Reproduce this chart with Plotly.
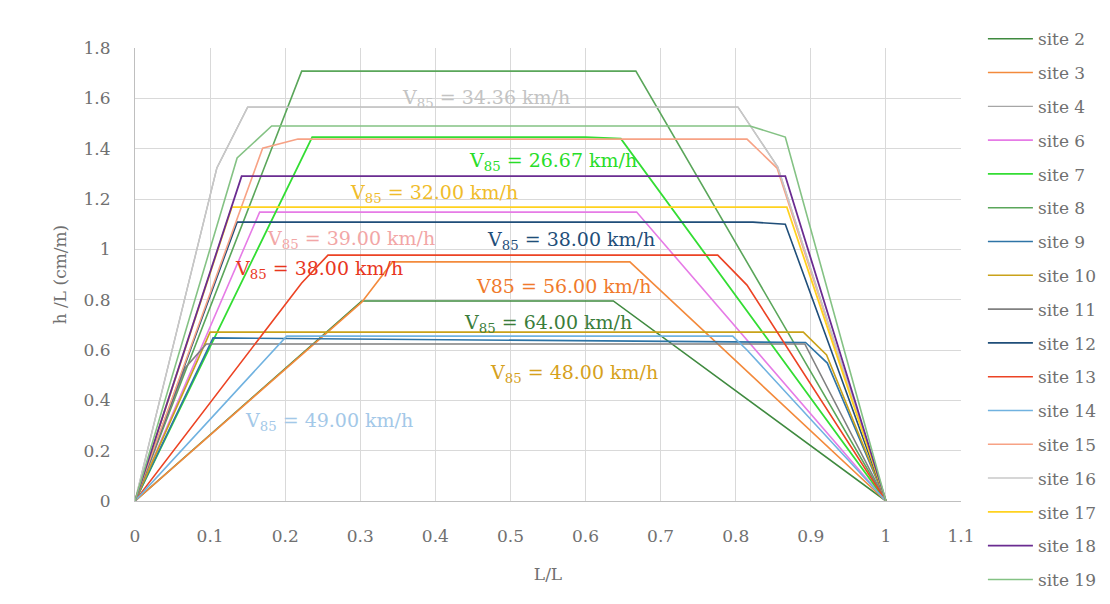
import plotly.graph_objects as go

# Normalised hump profiles: position along hump (L/L) vs. height ratio (h/L)
sites = ["site 2", "site 3", "site 4", "site 6", "site 7", "site 8", "site 9",
         "site 10", "site 11", "site 12", "site 13", "site 14", "site 15",
         "site 16", "site 17", "site 18", "site 19"]

x_site2 = [0, 0.302, 0.637, 1]
y_site2 = [0, 0.795, 0.795, 0]
x_site3 = [0, 0.302, 0.343, 0.659, 1]
y_site3 = [0, 0.79, 0.95, 0.95, 0]
x_site4 = [0, 0.109, 0.150, 0.803, 0.856, 1]
y_site4 = [0, 1.323, 1.565, 1.565, 1.327, 0]
x_site6 = [0, 0.166, 0.668, 1]
y_site6 = [0, 1.148, 1.148, 0]
x_site7 = [0, 0.236, 0.60, 0.647, 1]
y_site7 = [0, 1.446, 1.446, 1.44, 0]
x_site8 = [0, 0.222, 0.667, 1]
y_site8 = [0, 1.708, 1.708, 0]
x_site9 = [0, 0.104, 0.893, 0.922, 1]
y_site9 = [0, 0.648, 0.63, 0.548, 0]
x_site10 = [0, 0.10, 0.89, 0.921, 1]
y_site10 = [0, 0.671, 0.671, 0.58, 0]
x_site11 = [0, 0.067, 0.095, 0.892, 1]
y_site11 = [0, 0.53, 0.624, 0.624, 0]
x_site12 = [0, 0.136, 0.823, 0.866, 1]
y_site12 = [0, 1.108, 1.108, 1.10, 0]
x_site13 = [0, 0.222, 0.257, 0.776, 0.815, 1]
y_site13 = [0, 0.866, 0.977, 0.977, 0.858, 0]
x_site14 = [0, 0.202, 0.796, 0.815, 1]
y_site14 = [0, 0.655, 0.655, 0.60, 0]
x_site15 = [0, 0.170, 0.217, 0.815, 0.855, 1]
y_site15 = [0, 1.402, 1.438, 1.438, 1.323, 0]
x_site16 = [0, 0.109, 0.150, 0.803, 0.856, 1]
y_site16 = [0, 1.323, 1.565, 1.565, 1.327, 0]
x_site17 = [0, 0.129, 0.868, 1]
y_site17 = [0, 1.168, 1.168, 0]
x_site18 = [0, 0.142, 0.866, 1]
y_site18 = [0, 1.291, 1.291, 0]
x_site19 = [0, 0.136, 0.182, 0.819, 0.866, 1]
y_site19 = [0, 1.363, 1.49, 1.49, 1.446, 0]

xs = [x_site2, x_site3, x_site4, x_site6, x_site7, x_site8, x_site9, x_site10,
      x_site11, x_site12, x_site13, x_site14, x_site15, x_site16, x_site17,
      x_site18, x_site19]
ys = [y_site2, y_site3, y_site4, y_site6, y_site7, y_site8, y_site9, y_site10,
      y_site11, y_site12, y_site13, y_site14, y_site15, y_site16, y_site17,
      y_site18, y_site19]

colors = ["#3f8a3f", "#f38a3c", "#a6a6a6", "#e67be6", "#33dd33", "#5aa65a",
          "#2e74a6", "#c9a21a", "#808080", "#1f4e79", "#ec4324", "#70b2e0",
          "#f7a285", "#c8c8c8", "#ffd21f", "#6a2c91", "#84c284"]
widths = [1.6, 1.6, 1.3, 1.6, 1.8, 1.6, 1.6, 1.6, 1.6, 1.6, 1.6, 1.6, 1.6,
          1.5, 1.8, 1.8, 1.6]

# Speed labels placed beside the profiles
label_text = ["V<sub>85</sub> = 34.36 km/h", "V<sub>85</sub> = 26.67 km/h",
              "V<sub>85</sub> = 32.00 km/h", "V<sub>85</sub> = 39.00 km/h",
              "V<sub>85</sub> = 38.00 km/h", "V<sub>85</sub> = 38.00 km/h",
              "V85 = 56.00 km/h", "V<sub>85</sub> = 64.00 km/h",
              "V<sub>85</sub> = 48.00 km/h", "V<sub>85</sub> = 49.00 km/h"]
label_x = [0.467, 0.557, 0.398, 0.287, 0.581, 0.245, 0.571, 0.550, 0.585, 0.258]
label_y = [1.60, 1.35, 1.22, 1.04, 1.035, 0.92, 0.855, 0.705, 0.505, 0.315]
label_colors = ["#c3c3c3", "#28dd28", "#f0bc2a", "#f2a6a6", "#1f4e79",
                "#e8361e", "#f07a2c", "#3a7d3a", "#d6a11c", "#a3c8e8"]

FONT = "DejaVu Serif"
GREY = "#707070"

fig = go.Figure()
for name, x, y, c, w in zip(sites, xs, ys, colors, widths):
    fig.add_trace(go.Scatter(x=x, y=y, mode="lines", name=name,
                             legendgroup=name,
                             line=dict(color=c, width=w)))

for t, x, y, c in zip(label_text, label_x, label_y, label_colors):
    fig.add_annotation(x=x, y=y, text=t, showarrow=False,
                       font=dict(family=FONT, size=19, color=c))

fig.update_layout(
    width=1110, height=604,
    margin=dict(l=135, r=149, t=48, b=103),
    paper_bgcolor="white", plot_bgcolor="white",
    font=dict(family=FONT, size=17, color=GREY),
    legend=dict(xref="container", yref="container",
                x=0.8855, xanchor="left", y=0.965, yanchor="top",
                maxheight=1.0,
                font=dict(family=FONT, size=17, color=GREY),
                tracegroupgap=8.7, itemwidth=45, bgcolor="rgba(0,0,0,0)"),
    showlegend=True,
)
fig.update_xaxes(range=[0, 1.1], dtick=0.1, tick0=0, showgrid=True,
                 gridcolor="#d9d9d9", gridwidth=1, zeroline=False,
                 showline=True, linecolor="#bfbfbf", linewidth=1,
                 ticks="outside", ticklen=20, tickcolor="rgba(0,0,0,0)",
                 tickfont=dict(family=FONT, size=17, color=GREY),
                 automargin=False,
                 title=dict(text="L/L", standoff=22,
                            font=dict(family=FONT, size=17, color=GREY)))
fig.update_yaxes(range=[0, 1.8], dtick=0.2, tick0=0, showgrid=True,
                 gridcolor="#d9d9d9", gridwidth=1, zeroline=False,
                 showline=True, linecolor="#bfbfbf", linewidth=1,
                 ticks="outside", ticklen=20, tickcolor="rgba(0,0,0,0)",
                 tickfont=dict(family=FONT, size=17, color=GREY),
                 automargin=False,
                 title=dict(text="h /L (cm/m)", standoff=12,
                            font=dict(family=FONT, size=17, color=GREY)))

fig.write_html("out.html")
